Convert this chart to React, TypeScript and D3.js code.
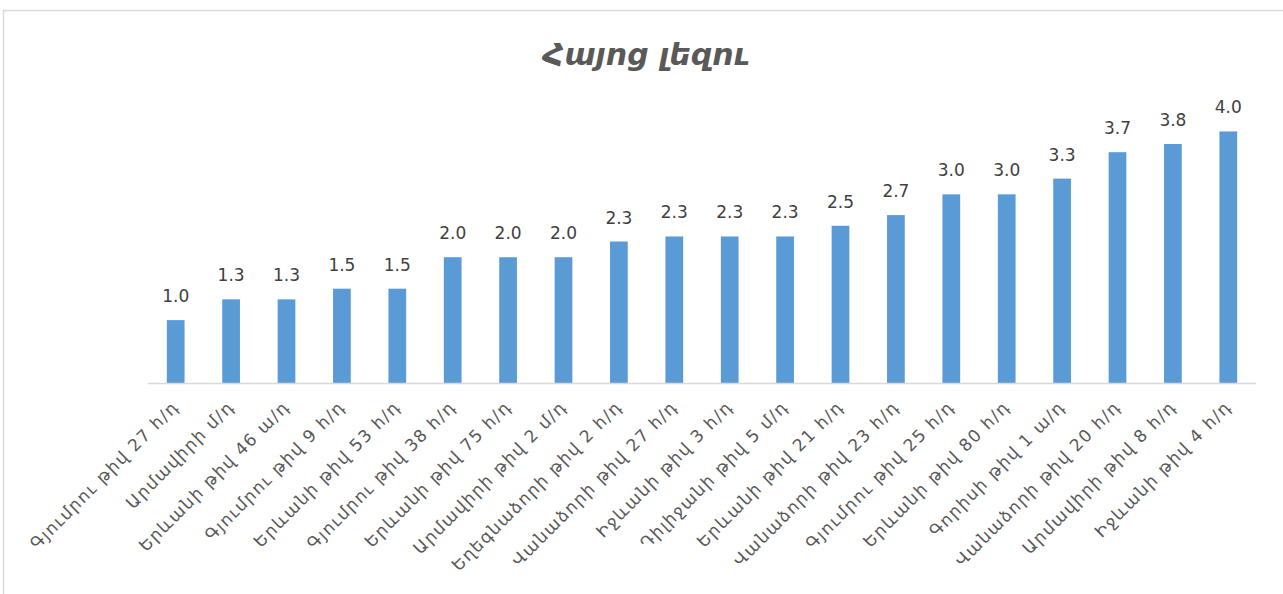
import React from 'react';
import * as d3 from 'd3';

const categories = [
  'Գյումրու թիվ 27 հ/դ',
  'Արմավիրի մ/դ',
  'Երևանի թիվ 46 ա/դ',
  'Գյումրու թիվ 9 հ/դ',
  'Երևանի թիվ 53 հ/դ',
  'Գյումրու թիվ 38 հ/դ',
  'Երևանի թիվ 75 հ/դ',
  'Արմավիրի թիվ 2 մ/դ',
  'Եղեգնաձորի թիվ 2 հ/դ',
  'Վանաձորի թիվ 27 հ/դ',
  'Իջևանի թիվ 3 հ/դ',
  'Դիլիջանի թիվ 5 մ/դ',
  'Երևանի թիվ 21 հ/դ',
  'Վանաձորի թիվ 23 հ/դ',
  'Գյումրու թիվ 25 հ/դ',
  'Երևանի թիվ 80 հ/դ',
  'Գորիսի թիվ 1 ա/դ',
  'Վանաձորի թիվ 20 հ/դ',
  'Արմավիրի թիվ 8 հ/դ',
  'Իջևանի թիվ 4 հ/դ',
];

const values = [
  1.0, 1.33, 1.33, 1.5, 1.5, 2.0, 2.0, 2.0, 2.25, 2.33,
  2.33, 2.33, 2.5, 2.67, 3.0, 3.0, 3.25, 3.67, 3.8, 4.0,
];

const title = 'Հայոց լեզու';

const W = 1283;
const H = 594;
const plot = { left: 148, right: 1256, top: 100, bottom: 383 };

const App = () => {
  const x = d3.scaleBand<string>()
    .domain(categories)
    .range([plot.left, plot.right])
    .paddingInner(0.68)
    .paddingOuter(0.34);

  const y = d3.scaleLinear()
    .domain([0, 4.5])
    .range([plot.bottom, plot.top]);

  const fmt = d3.format('.1f');
  const labelFont = '"DejaVu Sans", "Noto Sans", sans-serif';

  return (
    <svg width={W} height={H} style={{ position: 'absolute', left: 0, top: 0, background: '#fff' }}>
      <rect x={3.5} y={10.5} width={W + 10} height={H + 10} fill="#fff" stroke="#d9d9d9" strokeWidth={1.5} />

      <text x={646} y={65} textAnchor="middle" fill="#595959"
        style={{ font: `italic bold 30px ${labelFont}` }}>{title}</text>

      {categories.map((c, i) => (
        <rect key={c} x={x(c)} y={y(values[i])} width={x.bandwidth()}
          height={y(0) - y(values[i])} fill="#5b9bd5" />
      ))}

      <line x1={plot.left} x2={plot.right} y1={plot.bottom + 0.5} y2={plot.bottom + 0.5}
        stroke="#d9d9d9" strokeWidth={1.5} />

      {categories.map((c, i) => (
        <text key={'v' + c} x={(x(c) ?? 0) + x.bandwidth() / 2} y={y(values[i]) - 18}
          textAnchor="middle" fill="#404040"
          style={{ font: `17px ${labelFont}` }}>{fmt(values[i])}</text>
      ))}

      {categories.map((c) => {
        const cx = (x(c) ?? 0) + x.bandwidth() / 2 + 4;
        const cy = 408;
        return (
          <text key={'t' + c} x={cx} y={cy} textAnchor="end" fill="#595959"
            transform={`rotate(-45, ${cx}, ${cy})`}
            style={{ font: `17px ${labelFont}`, letterSpacing: '1.4px' }}>{c}</text>
        );
      })}
    </svg>
  );
};

export default App;
